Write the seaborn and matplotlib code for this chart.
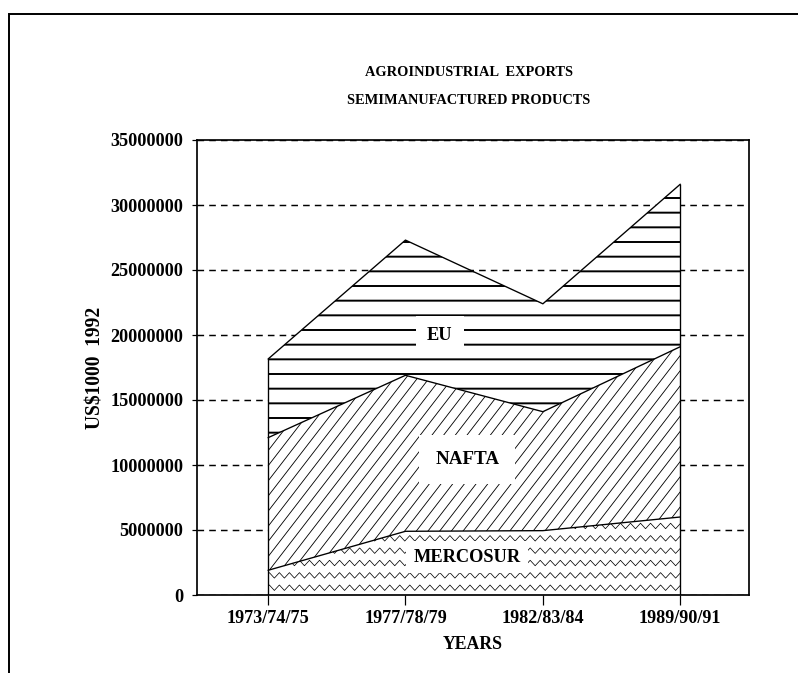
import numpy as np
import pandas as pd
import matplotlib
matplotlib.use("Agg")
import matplotlib.pyplot as plt
import seaborn as sns
from matplotlib.patches import Rectangle

# data (US$1000 1992), stacked from the bottom
periods = ["1973/74/75", "1977/78/79", "1982/83/84", "1989/90/91"]
mercosur = [1.9e6, 4.9e6, 4.95e6, 6.0e6]
nafta = [10.2e6, 12.0e6, 9.15e6, 13.1e6]
eu = [6.05e6, 10.4e6, 8.3e6, 12.5e6]
y_ticks = [0, 5000000, 10000000, 15000000, 20000000, 25000000, 30000000, 35000000]

df = pd.DataFrame({"period": periods, "MERCOSUR": mercosur, "NAFTA": nafta, "EU": eu})
df["x"] = np.arange(len(df))
df["top_mercosur"] = df["MERCOSUR"]
df["top_nafta"] = df["top_mercosur"] + df["NAFTA"]
df["top_eu"] = df["top_nafta"] + df["EU"]

sns.set_theme(style="white")
plt.rcParams["font.family"] = ["Liberation Serif", "DejaVu Serif"]
plt.rcParams["font.weight"] = "bold"
plt.rcParams["text.color"] = "black"
plt.rcParams["axes.labelcolor"] = "black"
plt.rcParams["hatch.color"] = "black"

DPI = 88
fig = plt.figure(figsize=(798 / DPI, 673 / DPI), dpi=DPI)
fig.patch.set_facecolor("white")
ax = fig.add_axes([197 / 798, 1 - 595 / 673, (749 - 197) / 798, (595 - 140) / 673])
ax.set_facecolor("white")

x = df["x"].values

# EU band, horizontal lines
plt.rcParams["hatch.linewidth"] = 1.6
ax.fill_between(x, df["top_nafta"], df["top_eu"], facecolor="white",
                edgecolor="black", hatch="-", linewidth=0, zorder=1)

# NAFTA band, steep diagonal lines clipped to the band
naf = ax.fill_between(x, df["top_mercosur"], df["top_nafta"], facecolor="white",
                      edgecolor="none", linewidth=0, zorder=1)
naf_clip = naf.get_paths()[0]
slope = 13.7e6  # about 52 degrees on screen
for x0 in np.arange(-2.0, 3.6, 0.085):
    ln, = ax.plot([x0, x0 + 2.0], [0, 2.0 * slope], color="black", lw=0.7, zorder=1.5)
    ln.set_clip_path(naf_clip, ax.transData)

# MERCOSUR band, zigzag texture clipped to the band
merc = ax.fill_between(x, 0, df["top_mercosur"], facecolor="white",
                       edgecolor="none", linewidth=0, zorder=1)
merc_clip = merc.get_paths()[0]
zx = np.arange(-0.1, 3.2, 0.0365)
for base in np.arange(0.35e6, 7.5e6, 0.95e6):
    zy = base + np.where(np.arange(len(zx)) % 2 == 0, 0, 0.42e6)
    ln, = ax.plot(zx, zy, color="black", lw=0.6, zorder=1.5)
    ln.set_clip_path(merc_clip, ax.transData)

# outlines of the stacked bands
for col in ["top_mercosur", "top_nafta", "top_eu"]:
    sns.lineplot(data=df, x="x", y=col, color="black", lw=1.1, ax=ax, zorder=3)
ax.vlines([x[0], x[-1]], 0, [df["top_eu"].iloc[0], df["top_eu"].iloc[-1]],
          color="black", lw=1.1, zorder=3)

# band labels with white boxes
ax.text(1.25, 20.0e6, "EU", ha="center", va="center", fontsize=15, fontweight="bold",
        zorder=4, bbox=dict(boxstyle="square,pad=0.6", fc="white", ec="none"))
ax.text(1.45, 10.4e6, "NAFTA", ha="center", va="center", fontsize=15.5, fontweight="bold",
        zorder=4, bbox=dict(boxstyle="square,pad=0.85", fc="white", ec="none"))
ax.text(1.45, 2.9e6, "MERCOSUR", ha="center", va="center", fontsize=15, fontweight="bold",
        zorder=4, bbox=dict(boxstyle="square,pad=0.4", fc="white", ec="none"))

# axes
ax.set_xlim(-0.517, 3.5)
ax.set_ylim(0, 35000000)
ax.set_xticks(x)
ax.set_xticklabels(periods, fontsize=14.8, fontweight="bold")
ax.set_yticks(y_ticks)
ax.set_yticklabels([str(v) for v in y_ticks], fontsize=14.8, fontweight="bold")
ax.yaxis.grid(True, color="black", linestyle=(0, (4.5, 3.5)), lw=1.2)
ax.xaxis.grid(False)
ax.set_axisbelow(True)
ax.tick_params(axis="x", direction="out", length=8, width=1, colors="black", pad=4,
               bottom=True)
ax.tick_params(axis="y", direction="out", length=4, width=1, colors="black", pad=7,
               left=True)
for s in ax.spines.values():
    s.set_color("black")
    s.set_linewidth(1.4)

ax.set_xlabel("YEARS", fontsize=14.5, fontweight="bold", labelpad=8)
ax.set_ylabel("US$1000  1992", fontsize=16, fontweight="bold", labelpad=4)

fig.text(469 / 798, 1 - 72 / 673, "AGROINDUSTRIAL  EXPORTS", ha="center", va="center",
         fontsize=11.8, fontweight="bold")
fig.text(469 / 798, 1 - 100 / 673, "SEMIMANUFACTURED PRODUCTS", ha="center", va="center",
         fontsize=11.8, fontweight="bold")

# outer frame of the page
fig.patches.append(Rectangle((9 / 798, -0.2), 1.5, 1 - 14 / 673 + 0.2, transform=fig.transFigure,
                             fill=False, edgecolor="black", lw=1.6))

fig.savefig("out.png", dpi=DPI)
